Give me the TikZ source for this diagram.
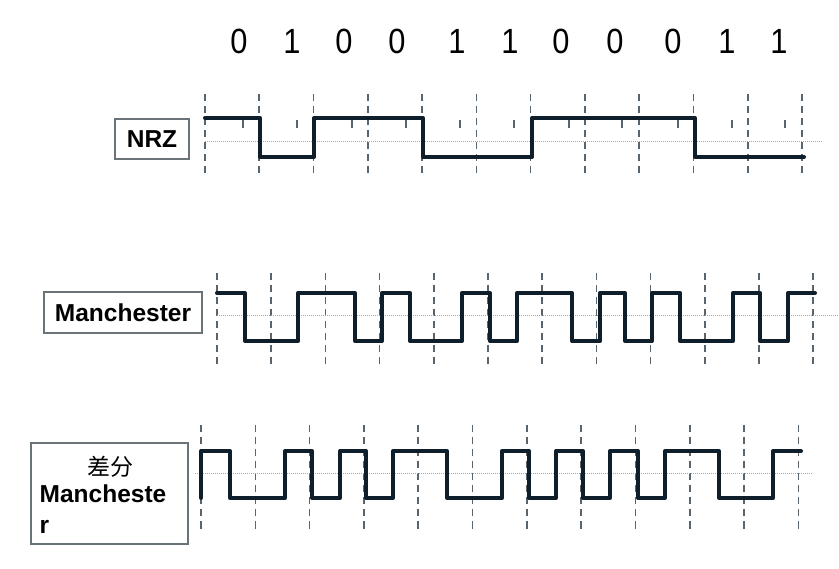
\documentclass[tikz,border=0pt]{standalone}
\usepackage{fontspec}
\usepackage{graphicx}
\setmainfont{Liberation Sans}
\newfontfamily\cjkfont{Noto Sans CJK SC}
\definecolor{wavecol}{HTML}{0E1E2B}
\definecolor{gridcol}{HTML}{56656F}
\definecolor{midcol}{HTML}{A4A9AD}
\definecolor{boxcol}{HTML}{6A7378}
\begin{document}
\begin{tikzpicture}[x=1pt,y=-1pt,
  wave/.style={line width=4pt, color=wavecol, line join=round, line cap=round},
  gridline/.style={line width=1.6pt, color=gridcol, dash pattern=on 7.5pt off 4.5pt},
  midline/.style={line width=0.9pt, color=midcol, dash pattern=on 1pt off 1pt},
  tickmark/.style={line width=1.3pt, color=gridcol},
  lblbox/.style={draw=boxcol, line width=1.5pt, fill=white, inner sep=0pt},
  lbltext/.style={inner sep=0pt, font=\fontsize{24.5}{29}\selectfont\bfseries},
  digit/.style={inner sep=0pt, font=\fontsize{35}{40}\selectfont}
]
\useasboundingbox[fill=white] (0,0) rectangle (839,569);

% bit values
\foreach \d/\x [count=\k] in {0/239,1/292,0/344,0/397,1/457,1/510,0/561,0/615,0/673,1/727,1/779}
  \node[digit] (bit\k) at (\x,41) {\scalebox{0.88}[1]{\d}};

% ---------- NRZ ----------
\foreach \i in {0,...,11}
  \draw[gridline] ({205+\i*54.27},94) -- ({205+\i*54.27},176);
\draw[midline] (205,141) -- (822,141);
\foreach \x in {243,297,352,406,460,514,569,622,678,732,785}
  \draw[tickmark] (\x,120) -- (\x,128);
\draw[wave] (205,118) -- (260,118) -- (260,157) -- (314,157) -- (314,118)
  -- (423,118) -- (423,157) -- (532,157) -- (532,118) -- (695,118)
  -- (695,157) -- (804,157);
\node[lblbox, lbltext, minimum width=74pt, minimum height=40pt] (nrz) at (152,139) {NRZ};

% ---------- Manchester ----------
\foreach \i in {0,...,11}
  \draw[gridline] ({217+\i*54.2},273) -- ({217+\i*54.2},368);
\draw[midline] (217,315) -- (839,315);
\draw[wave] (217,293) -- (245,293) -- (245,341) -- (298,341) -- (298,293)
  -- (355,293) -- (355,341) -- (382,341) -- (382,293) -- (410,293)
  -- (410,341) -- (462,341) -- (462,293) -- (490,293) -- (490,341)
  -- (517,341) -- (517,293) -- (572,293) -- (572,341) -- (600,341)
  -- (600,293) -- (625,293) -- (625,341) -- (652,341) -- (652,293)
  -- (680,293) -- (680,341) -- (733,341) -- (733,293) -- (760,293)
  -- (760,341) -- (788,341) -- (788,293) -- (815,293);
\node[lblbox, lbltext, minimum width=158pt, minimum height=41pt] (man) at (123,312.5) {Manchester};

% ---------- Differential Manchester ----------
\foreach \i in {0,...,11}
  \draw[gridline] ({201+\i*54.3},425) -- ({201+\i*54.3},533);
\draw[midline] (195,473) -- (812,473);
\draw[wave] (201,498) -- (201,451) -- (230,451) -- (230,498) -- (285,498)
  -- (285,451) -- (312,451) -- (312,498) -- (340,498) -- (340,451)
  -- (366,451) -- (366,498) -- (393,498) -- (393,451) -- (447,451)
  -- (447,498) -- (502,498) -- (502,451) -- (529,451) -- (529,498)
  -- (556,498) -- (556,451) -- (583,451) -- (583,498) -- (610,498)
  -- (610,451) -- (638,451) -- (638,498) -- (665,498) -- (665,451)
  -- (719,451) -- (719,498) -- (773,498) -- (773,451) -- (801,451);
\node[lblbox, minimum width=157pt, minimum height=101pt] (diff) at (109.5,493.5) {};
\node[inner sep=0pt, anchor=base, font=\fontsize{23}{28}\selectfont\cjkfont] (diffa) at (110,476) {差分};
\node[lbltext, anchor=base west] (diffb) at (39.5,503) {Mancheste};
\node[lbltext, anchor=base west] (diffc) at (39.5,533) {r};
\end{tikzpicture}
\end{document}
